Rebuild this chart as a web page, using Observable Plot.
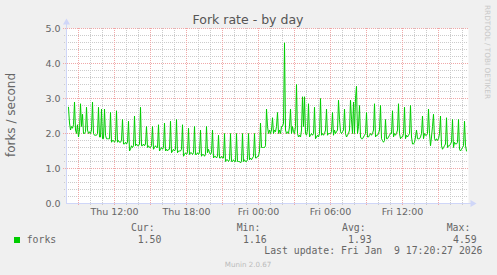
<!DOCTYPE html>
<html>
<head>
<meta charset="utf-8">
<script src="https://cdn.jsdelivr.net/npm/d3@7"></script>
<script src="https://cdn.jsdelivr.net/npm/@observablehq/plot@0.6"></script>
<style>
  html, body { margin: 0; padding: 0; background: #f0f0f0; }
  #wrap { position: relative; width: 497px; height: 275px; overflow: hidden; background: #f0f0f0; }
  #wrap > svg { position: absolute; left: 0; top: 0; }
  #overlay { position: absolute; left: 0; top: 0; pointer-events: none; }
  #overlay text { white-space: pre; }
</style>
</head>
<body>
<div id="wrap"></div>
<script>
// ---- data ----
const title = "Fork rate - by day";
const yLabel = "forks / second";
const seriesName = "forks";
const startMinute = 490;   // Thu 08:10, minutes since Thu 00:00
const stepMinutes = 5;
// fork rate samples, one per 5 minutes (rows = half hours)
const forks = [
  2.75, 2.30, 2.10, 2.20, 2.15, 2.25,
  2.90, 2.10, 2.00, 2.25, 1.90, 2.10,
  2.85, 2.20, 2.55, 2.00, 2.00, 2.05,
  2.75, 2.10, 2.00, 2.05, 2.00, 2.10,
  2.90, 2.00, 1.95, 1.95, 1.95, 2.00,
  2.75, 1.90, 1.90, 2.70, 1.85, 1.85,
  2.70, 1.95, 1.85, 1.85, 1.85, 1.85,
  2.60, 1.75, 1.80, 1.80, 1.75, 1.80,
  2.65, 1.75, 1.80, 1.75, 1.75, 1.80,
  2.40, 1.70, 1.70, 1.75, 1.70, 1.75,
  2.35, 1.50, 1.55, 1.65, 1.60, 1.65,
  2.50, 1.65, 1.70, 1.65, 1.65, 1.70,
  2.75, 1.65, 1.65, 1.70, 1.65, 1.70,
  2.20, 1.60, 1.65, 1.60, 1.60, 1.65,
  2.20, 1.55, 1.60, 1.65, 1.60, 1.60,
  2.25, 1.50, 1.55, 1.60, 1.55, 1.60,
  2.30, 1.50, 1.55, 1.50, 1.55, 1.55,
  2.35, 1.45, 1.50, 1.55, 1.50, 1.55,
  2.40, 1.45, 1.50, 1.50, 1.50, 1.55,
  2.25, 1.35, 1.40, 1.45, 1.40, 1.45,
  2.15, 1.40, 1.45, 1.45, 1.40, 1.45,
  2.20, 1.40, 1.40, 1.45, 1.40, 1.45,
  2.10, 1.35, 1.40, 1.40, 1.35, 1.40,
  2.20, 1.45, 1.55, 1.45, 1.40, 1.45,
  2.10, 1.30, 1.35, 1.35, 1.30, 1.35,
  1.95, 1.30, 1.30, 1.35, 1.30, 1.30,
  2.00, 1.20, 1.25, 1.25, 1.20, 1.25,
  2.00, 1.20, 1.20, 1.25, 1.20, 1.20,
  2.00, 1.20, 1.20, 1.20, 1.16, 1.20,
  2.00, 1.20, 1.25, 1.20, 1.20, 1.25,
  2.00, 1.25, 1.30, 1.25, 1.30, 1.35,
  2.00, 1.30, 1.30, 1.35, 1.35, 1.50,
  2.30, 1.60, 1.60, 1.60, 1.60, 1.65,
  2.70, 2.20, 2.00, 2.10, 2.00, 2.10,
  2.45, 2.00, 2.10, 2.05, 2.20, 2.60,
  2.00, 2.10, 2.00, 2.20, 2.20, 2.30,
  4.59, 2.10, 2.00, 2.05, 2.00, 2.20,
  2.70, 2.00, 2.20, 2.05, 2.00, 2.20,
  3.40, 2.00, 1.90, 1.95, 1.90, 2.10,
  3.05, 2.20, 3.05, 2.00, 1.95, 2.10,
  2.85, 1.90, 1.95, 2.00, 1.95, 2.00,
  2.75, 1.85, 1.90, 1.95, 1.90, 2.00,
  3.00, 1.95, 2.00, 1.95, 2.00, 2.10,
  2.70, 1.95, 2.00, 2.00, 2.00, 2.05,
  2.60, 1.95, 2.10, 2.00, 2.05, 2.10,
  2.95, 2.40, 2.05, 2.00, 2.05, 2.10,
  2.70, 2.00, 1.90, 1.95, 2.00, 2.10,
  2.95, 2.40, 2.00, 2.90, 2.00, 3.00,
  3.35, 2.00, 2.20, 2.80, 1.90, 1.85,
  1.85, 1.90, 1.95, 2.00, 2.60, 1.90,
  1.90, 1.95, 2.00, 1.95, 2.00, 2.10,
  2.85, 1.90, 1.95, 1.95, 2.00, 2.10,
  2.80, 1.85, 1.80, 1.75, 1.80, 2.40,
  1.85, 1.85, 1.90, 1.95, 2.00, 2.00,
  2.65, 1.90, 2.00, 1.95, 2.00, 2.10,
  2.85, 2.00, 1.85, 1.90, 1.90, 2.00,
  2.75, 1.85, 1.95, 1.90, 1.95, 2.00,
  2.80, 1.90, 1.70, 1.70, 1.75, 1.90,
  2.10, 1.85, 1.85, 1.85, 1.90, 2.00,
  2.50, 1.85, 2.00, 1.95, 1.95, 2.00,
  2.70, 2.00, 1.65, 1.90, 2.20, 2.55,
  1.85, 1.80, 1.85, 1.80, 1.85, 2.00,
  2.50, 1.65, 1.55, 1.60, 1.65, 1.70,
  2.45, 1.60, 1.65, 1.65, 1.70, 1.75,
  2.40, 1.60, 1.75, 1.70, 1.70, 1.75,
  2.40, 1.55, 1.50, 1.55, 1.60, 1.65,
  2.35, 1.65, 1.50
];
const tickMinutes = [720, 1080, 1440, 1800, 2160];
const tickLabels = ["Thu 12:00", "Thu 18:00", "Fri 00:00", "Fri 06:00", "Fri 12:00"];
const yTicks = [0, 1, 2, 3, 4, 5];
const statNames = ["Cur:", "Min:", "Avg:", "Max:"];
const statValues = ["1.50", "1.16", "1.93", "4.59"];
const lastUpdate = "Last update: Fri Jan  9 17:20:27 2026";
const footer = "Munin 2.0.67";
const watermark = "RRDTOOL / TOBI OETIKER";

// ---- build ----
const rows = forks.map((v, i) => ({t: startMinute + i * stepMinutes, v}));
const xDomain = [480, 2490];
const minorX = d3.range(540, 2461, 60).filter(m => m % 180 !== 0);
const majorX = d3.range(540, 2461, 180);
const minorY = d3.range(1, 25).map(k => k * 0.2).filter(v => Math.abs(v - Math.round(v)) > 1e-6);
const majorY = [1, 2, 3, 4, 5];
const axisColor = "#cfd6f8";
const gridColor = "#cbcbcb";
const mgridColor = "#f0a8a8";
const lineColor = "#00cc00";

const chart = Plot.plot({
  width: 497,
  height: 275,
  marginLeft: 66,
  marginRight: 29,
  marginTop: 28,
  marginBottom: 72,
  x: {type: "linear", domain: xDomain, axis: null},
  y: {domain: [0, 5], axis: null},
  style: {fontFamily: "DejaVu Sans", fontSize: "9.5px", color: "#666", background: "transparent", overflow: "visible"},
  marks: [
    Plot.frame({fill: "white", stroke: null}),
    Plot.ruleX(minorX, {stroke: gridColor, strokeDasharray: "1,1", insetBottom: -2}),
    Plot.ruleY(minorY, {stroke: gridColor, strokeDasharray: "1,1", insetLeft: -2}),
    Plot.ruleX(majorX, {stroke: mgridColor, strokeDasharray: "1,1", insetBottom: -3}),
    Plot.ruleY(majorY, {stroke: mgridColor, strokeDasharray: "1,1", insetLeft: -3}),
    Plot.ruleY([0], {stroke: axisColor, insetRight: -3}),
    Plot.ruleX([xDomain[0]], {stroke: axisColor, insetTop: -5}),
    Plot.dot({length: 1}, {frameAnchor: "top-left", dy: -6, symbol: "triangle", r: 2.6, fill: axisColor, stroke: null}),
    Plot.dot({length: 1}, {frameAnchor: "bottom-right", dx: 4, symbol: "triangle", r: 2.6, rotate: 90, fill: axisColor, stroke: null}),
    Plot.line(rows, {x: "t", y: "v", stroke: lineColor, strokeWidth: 1}),
    Plot.axisX(tickMinutes, {tickFormat: d => tickLabels[tickMinutes.indexOf(d)], tickSize: 0, tickPadding: 5, label: null, fill: "#666"}),
    Plot.axisY(yTicks, {tickFormat: d => d.toFixed(1), tickSize: 0, tickPadding: 6, label: null, fill: "#666"})
  ]
});
document.getElementById("wrap").appendChild(chart);

// ---- text overlay (title, labels, legend) ----
const ns = "http://www.w3.org/2000/svg";
const ov = document.createElementNS(ns, "svg");
ov.setAttribute("id", "overlay");
ov.setAttribute("width", 497);
ov.setAttribute("height", 275);
document.getElementById("wrap").appendChild(ov);
function txt(s, x, y, opts = {}) {
  const t = document.createElementNS(ns, "text");
  t.textContent = s;
  t.setAttribute("x", x);
  t.setAttribute("y", y);
  t.setAttribute("fill", opts.fill || "#666");
  t.setAttribute("font-family", opts.family || "DejaVu Sans");
  t.setAttribute("font-size", opts.size || 9.5);
  if (opts.anchor) t.setAttribute("text-anchor", opts.anchor);
  if (opts.transform) t.setAttribute("transform", opts.transform);
  t.setAttribute("xml:space", "preserve");
  ov.appendChild(t);
  return t;
}
txt(title, 248, 23.5, {size: 12.5, anchor: "middle", fill: "#555"});
txt(yLabel, 0, 0, {size: 12, anchor: "middle", transform: "translate(15,115) rotate(-90)"});
txt(watermark, 0, 0, {size: 7.3, fill: "#c8c8c8", transform: "translate(485,5) rotate(90)"});
// legend
const sw = document.createElementNS(ns, "rect");
sw.setAttribute("x", 14); sw.setAttribute("y", 237);
sw.setAttribute("width", 6); sw.setAttribute("height", 6);
sw.setAttribute("fill", lineColor);
ov.appendChild(sw);
const mono = "DejaVu Sans Mono";
txt(seriesName, 26.7, 242.5, {family: mono, size: 9.8});
const nameX = [131, 236.7, 342, 446.7];
const valX = [137.7, 243, 348, 453];
statNames.forEach((s, i) => txt(s, nameX[i], 231, {family: mono, size: 9.8}));
statValues.forEach((s, i) => txt(s, valX[i], 242.5, {family: mono, size: 9.8}));
txt(lastUpdate, 482.5, 254, {family: mono, size: 9.8, anchor: "end"});
txt(footer, 248, 267, {size: 7.1, anchor: "middle", fill: "#bbb"});
</script>
</body>
</html>
